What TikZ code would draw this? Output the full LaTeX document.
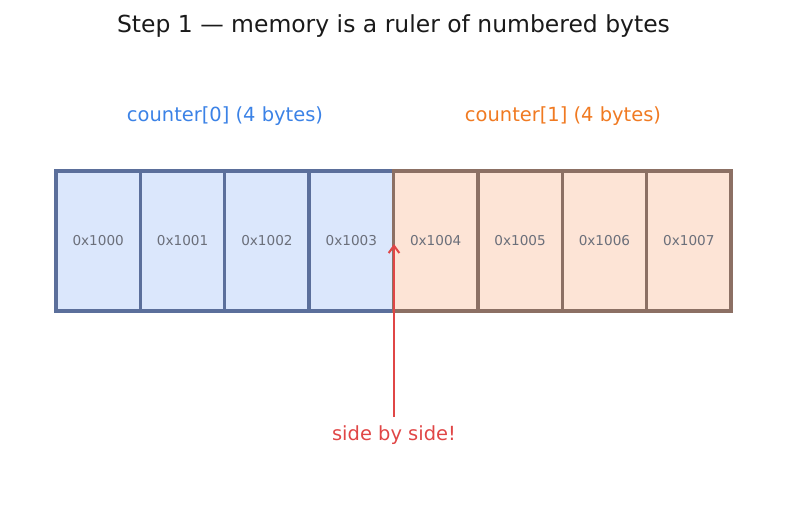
\documentclass[tikz,border=0pt]{standalone}
\usepackage{fontspec}
\setmainfont{DejaVu Sans}
\usetikzlibrary{arrows.meta}
\definecolor{titlec}{HTML}{1A1A1A}
\definecolor{bluetxt}{HTML}{3B82E6}
\definecolor{orangetxt}{HTML}{F07A22}
\definecolor{redc}{HTML}{E04646}
\definecolor{bluefill}{HTML}{DBE7FC}
\definecolor{blueline}{HTML}{5B6F9B}
\definecolor{orangefill}{HTML}{FDE4D6}
\definecolor{orangeline}{HTML}{8C7064}
\definecolor{celltxt}{HTML}{6B6F7A}
\tikzset{
  cellbase/.style={rectangle, minimum width=63.28pt, minimum height=105pt, inner sep=0pt, line width=2.6pt, font=\fontsize{10.2}{12}\selectfont, text=celltxt},
  bluecell/.style={cellbase, draw=blueline, fill=bluefill},
  orangecell/.style={cellbase, draw=orangeline, fill=orangefill},
  arrowline/.style={draw=redc, line width=1.7pt, -{Straight Barb[length=5.5pt,width=8pt,line width=1.5pt]}},
}
\begin{document}
\begin{tikzpicture}[x=0.75pt,y=-0.75pt]
\useasboundingbox (0,0) rectangle (787,510);
\node[text=titlec, font=\fontsize{17.6}{21}\selectfont] (title) at (393.5,26) {Step 1 — memory is a ruler of numbered bytes};
\node[text=bluetxt, font=\fontsize{14.6}{17}\selectfont] (lab0) at (225,116) {counter[0] (4 bytes)};
\node[text=orangetxt, font=\fontsize{14.6}{17}\selectfont] (lab1) at (563,116) {counter[1] (4 bytes)};
\node[bluecell] (c0) at (98.19,241) {0x1000};
\node[bluecell] (c1) at (182.56,241) {0x1001};
\node[bluecell] (c2) at (266.94,241) {0x1002};
\node[bluecell] (c3) at (351.31,241) {0x1003};
\node[orangecell] (c4) at (435.69,241) {0x1004};
\node[orangecell] (c5) at (520.06,241) {0x1005};
\node[orangecell] (c6) at (604.44,241) {0x1006};
\node[orangecell] (c7) at (688.81,241) {0x1007};
\node[text=redc, font=\fontsize{14.6}{17}\selectfont] (side) at (394,435) {side by side!};
\coordinate (tip) at (394,244);
\coordinate (tail) at (394,417);
\draw[arrowline] (tail) -- (tip);
\end{tikzpicture}
\end{document}
